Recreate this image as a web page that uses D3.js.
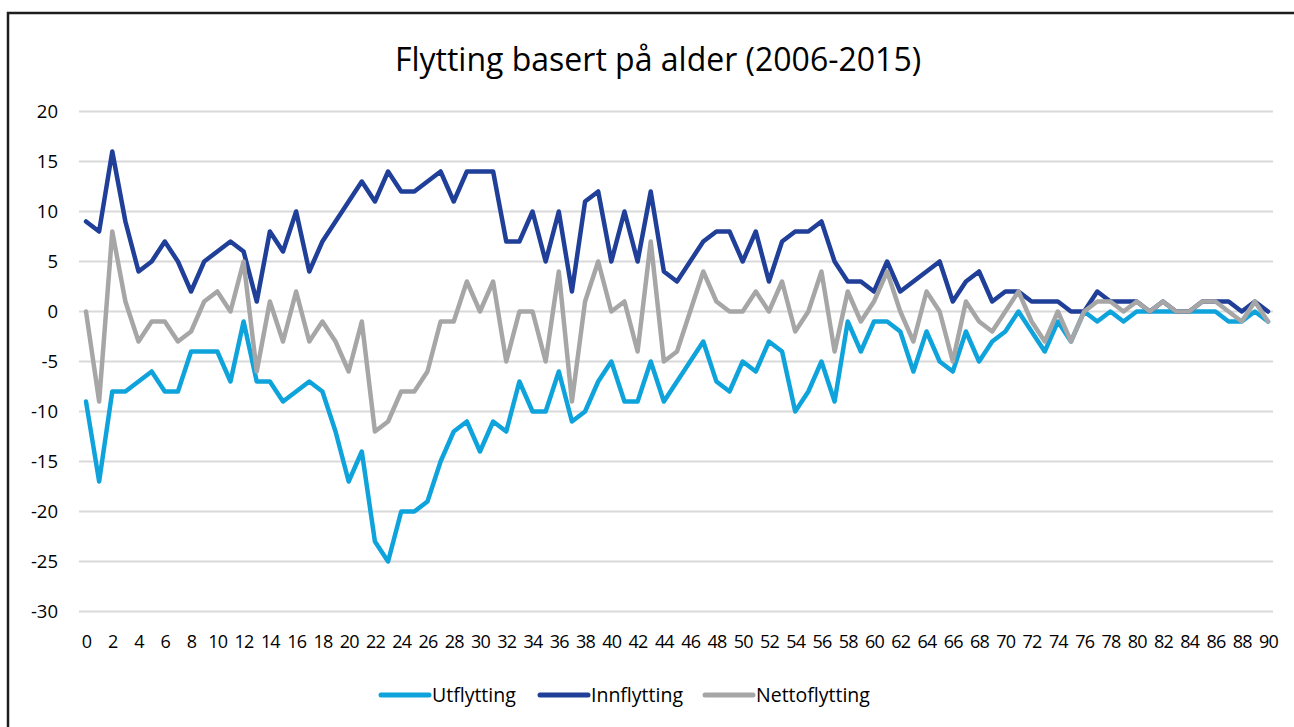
<!DOCTYPE html>
<html>
<head>
<meta charset="utf-8">
<script src="https://cdn.jsdelivr.net/npm/d3@7"></script>
<style>
  body { margin: 0; background: #fff; }
  text { font-family: "Open Sans", "Noto Sans", sans-serif; fill: #000; }
</style>
</head>
<body>
<div id="chart"></div>
<script>
// chart data

var ages = d3.range(0, 91);

var utflytting = [-9, -17, -8, -8, -7, -6, -8, -8, -4, -4,
  -4, -7, -1, -7, -7, -9, -8, -7, -8, -12,
  -17, -14, -23, -25, -20, -20, -19, -15, -12, -11,
  -14, -11, -12, -7, -10, -10, -6, -11, -10, -7,
  -5, -9, -9, -5, -9, -7, -5, -3, -7, -8,
  -5, -6, -3, -4, -10, -8, -5, -9, -1, -4,
  -1, -1, -2, -6, -2, -5, -6, -2, -5, -3,
  -2, 0, -2, -4, -1, -3, 0, -1, 0, -1,
  0, 0, 0, 0, 0, 0, 0, -1, -1, 0, -1];

var innflytting = [9, 8, 16, 9, 4, 5, 7, 5, 2, 5,
  6, 7, 6, 1, 8, 6, 10, 4, 7, 9,
  11, 13, 11, 14, 12, 12, 13, 14, 11, 14,
  14, 14, 7, 7, 10, 5, 10, 2, 11, 12,
  5, 10, 5, 12, 4, 3, 5, 7, 8, 8,
  5, 8, 3, 7, 8, 8, 9, 5, 3, 3,
  2, 5, 2, 3, 4, 5, 1, 3, 4, 1,
  2, 2, 1, 1, 1, 0, 0, 2, 1, 1,
  1, 0, 1, 0, 0, 1, 1, 1, 0, 1, 0];

var nettoflytting = [0, -9, 8, 1, -3, -1, -1, -3, -2, 1,
  2, 0, 5, -6, 1, -3, 2, -3, -1, -3,
  -6, -1, -12, -11, -8, -8, -6, -1, -1, 3,
  0, 3, -5, 0, 0, -5, 4, -9, 1, 5,
  0, 1, -4, 7, -5, -4, 0, 4, 1, 0,
  0, 2, 0, 3, -2, 0, 4, -4, 2, -1,
  1, 4, 0, -3, 2, 0, -5, 1, -1, -2,
  0, 2, -1, -3, 0, -3, 0, 1, 1, 0,
  1, 0, 1, 0, 0, 1, 1, 0, -1, 1, -1];

var yTicks = [20, 15, 10, 5, 0, -5, -10, -15, -20, -25, -30];
var xTicks = d3.range(0, 91, 2);

var seriesNames = ['Utflytting', 'Innflytting', 'Nettoflytting'];
var seriesColors = ['#0fa3dc', '#1f3f98', '#a6a6a6'];

// set up svg area

var svgWidth = 1294;
var svgHeight = 727;

var svg = d3.select('#chart')
  .append('svg')
  .attr('width', svgWidth)
  .attr('height', svgHeight);

// frame round the chart (runs off the right and bottom edge)
svg.append('rect')
  .attr('x', 8)
  .attr('y', 13)
  .attr('width', 1300)
  .attr('height', 730)
  .attr('fill', 'none')
  .attr('stroke', '#1e1e1e')
  .attr('stroke-width', 2.5);

// title
svg.append('text')
  .attr('x', 658)
  .attr('y', 71)
  .attr('text-anchor', 'middle')
  .style('font-size', '32px')
  .text('Flytting basert på alder (2006-2015)');

// scales
var x = d3.scaleLinear()
  .domain([0, 90])
  .range([86, 1268]);

var y = d3.scaleLinear()
  .domain([-30, 20])
  .range([611.5, 111.5]);

// grid lines
svg.append('g')
  .selectAll('line')
  .data(yTicks)
  .enter()
  .append('line')
  .attr('x1', 79)
  .attr('x2', 1273)
  .attr('y1', d => y(d))
  .attr('y2', d => y(d))
  .attr('stroke', '#d9d9d9')
  .attr('stroke-width', 2);

// y axis labels (plain hyphen for the minus, as in the original)
var yAxis = svg.append('g')
  .attr('transform', 'translate(58,0)')
  .call(d3.axisLeft(y).tickValues(yTicks).tickSize(0).tickPadding(0)
    .tickFormat(d => String(d)));
yAxis.select('.domain').remove();
yAxis.selectAll('text')
  .style('font-size', '18.5px')
  .attr('fill', '#000');

// x axis labels
var xAxis = svg.append('g')
  .attr('transform', 'translate(0,635)')
  .call(d3.axisBottom(x).tickValues(xTicks).tickSize(0).tickPadding(0)
    .tickFormat(d => String(d)));
xAxis.select('.domain').remove();
xAxis.selectAll('text')
  .style('font-size', '18px')
  .style('letter-spacing', '-0.8px')
  .attr('fill', '#000');

// lines
var line = d3.line()
  .x((d, i) => x(ages[i]))
  .y(d => y(d));

var allSeries = [utflytting, innflytting, nettoflytting];

svg.append('g')
  .selectAll('path')
  .data(allSeries)
  .enter()
  .append('path')
  .attr('d', d => line(d))
  .attr('fill', 'none')
  .attr('stroke', (d, i) => seriesColors[i])
  .attr('stroke-width', 4.5)
  .attr('stroke-linejoin', 'round')
  .attr('stroke-linecap', 'round');

// legend
var legendX = [381, 540, 705];

var legend = svg.append('g')
  .selectAll('g')
  .data(seriesNames)
  .enter()
  .append('g')
  .attr('transform', (d, i) => `translate(${legendX[i]}, 695)`);

legend.append('line')
  .attr('x1', 0)
  .attr('x2', 48)
  .attr('stroke', (d, i) => seriesColors[i])
  .attr('stroke-width', 5)
  .attr('stroke-linecap', 'round');

legend.append('text')
  .attr('x', 51)
  .attr('y', 7)
  .style('font-size', '19.5px')
  .text(d => d);
</script>
</body>
</html>
